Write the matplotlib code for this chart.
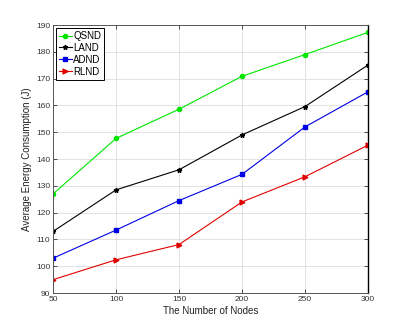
import numpy as np
import matplotlib.pyplot as plt

# energy consumption vs. network size
nodes = [50, 100, 150, 200, 250, 300]
qsnd = [127.0, 147.7, 158.6, 170.9, 179.0, 187.3]
land = [113.0, 128.5, 136.0, 149.0, 159.6, 175.1]
adnd = [103.0, 113.5, 124.5, 134.3, 152.0, 165.1]
rlnd = [95.0, 102.4, 108.1, 124.0, 133.4, 145.2]

plt.rcParams['font.family'] = ['Liberation Sans', 'DejaVu Sans']

fig = plt.figure(figsize=(4.08, 3.30), dpi=100)
ax = fig.add_axes([0.13, 0.112, 0.772, 0.812])

ax.plot(nodes, qsnd, color='#00e600', marker='o', markersize=3, lw=0.8, label='QSND')
ax.plot(nodes, land, color='black', marker='*', markersize=3.5, lw=0.8, label='LAND')
ax.plot(nodes, adnd, color='#0000e6', marker='s', markersize=3, lw=0.8, label='ADND')
ax.plot(nodes, rlnd, color='#e00000', marker='>', markersize=3.5, lw=0.8, label='RLND')

ax.set_xlim(50, 300)
ax.set_ylim(90, 190)
ax.set_xticks(np.arange(50, 301, 50))
ax.set_yticks(np.arange(90, 191, 10))
ax.grid(True, color='#dddddd', lw=0.6)
ax.set_axisbelow(True)

ax.tick_params(direction='in', length=3, width=0.6, labelsize=6,
               top=True, right=True, colors='#333333', pad=2)
for side in ax.spines.values():
    side.set_color('#555555')
    side.set_linewidth(0.7)
ax.spines['right'].set_color('black')
ax.spines['right'].set_linewidth(1.0)

ax.set_xlabel('The Number of Nodes', fontsize=7, labelpad=2, color='#222222')
ax.set_ylabel('Average Energy Consumption (J)', fontsize=7, labelpad=3, color='#222222')

leg = ax.legend(loc='upper left', fontsize=7, handlelength=1.3, handletextpad=0.2,
                borderpad=0.3, labelspacing=0.2, fancybox=False, framealpha=1,
                borderaxespad=0.3)
leg.get_frame().set_edgecolor('black')
leg.get_frame().set_linewidth(0.7)

fig.savefig('out.png', dpi=100)
